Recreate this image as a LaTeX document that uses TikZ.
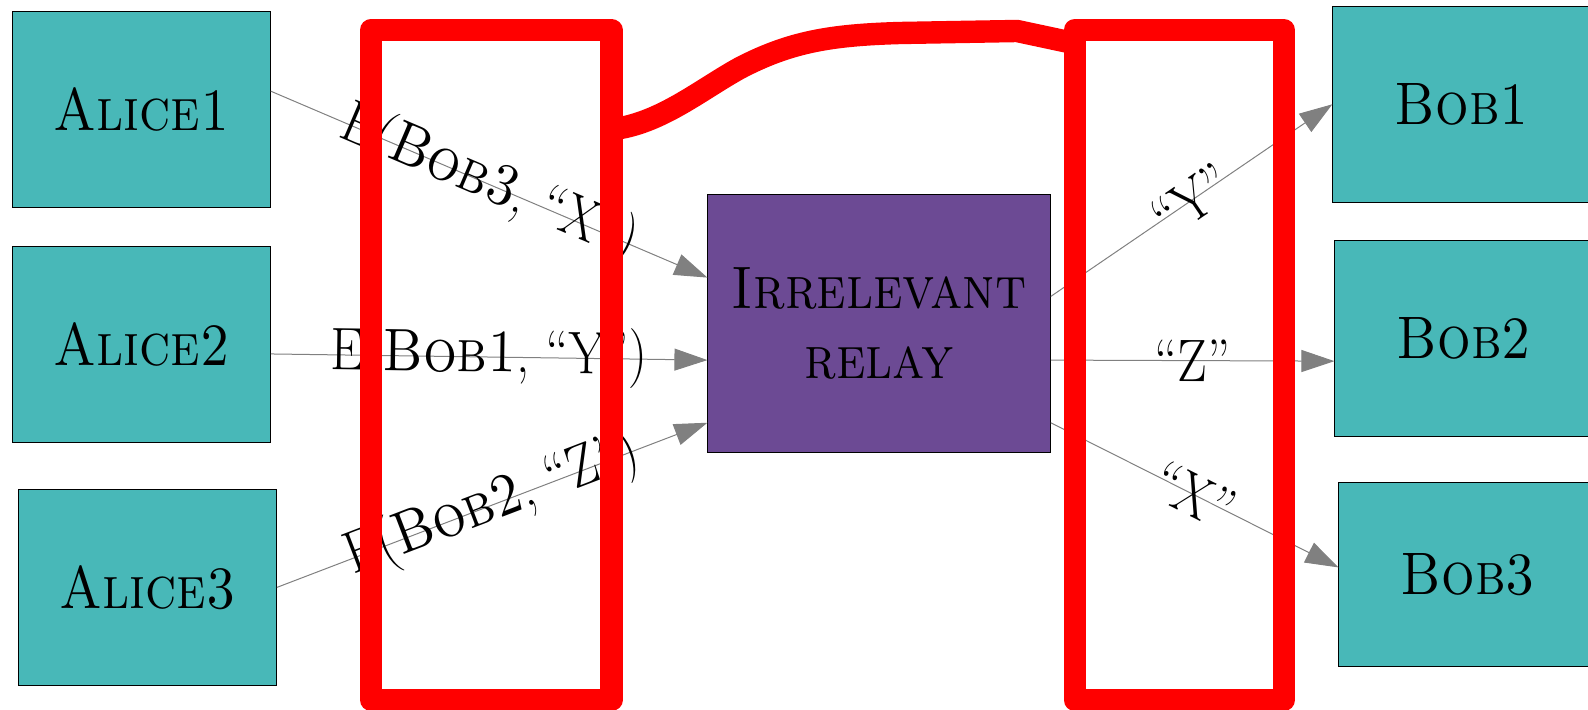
\documentclass[tikz,border=0pt]{standalone}
\usepackage{tikz}
\usetikzlibrary{arrows.meta}
\definecolor{party}{RGB}{72, 184, 184}
\definecolor{hubfill}{RGB}{108, 74, 148}
\definecolor{wire}{RGB}{128, 128, 128}
\definecolor{redmark}{RGB}{255, 0, 0}
\newcommand{\nar}[1]{\scalebox{0.88}[1]{#1}}
\tikzset{
    person/.style={rectangle, draw=black, line width=0.5pt, fill=party, minimum width=129pt, minimum height=98pt, inner sep=0pt, font=\fontsize{30}{35}\selectfont},
    hub/.style={person, fill=hubfill, minimum width=171.2pt, minimum height=129pt, align=center},
    msg/.style={draw=wire, line width=0.5pt, -{Triangle[length=16.5pt, width=11pt]}},
    msglabel/.style={midway, sloped, inner sep=0pt, font=\fontsize{30}{35}\selectfont},
    zone/.style={rectangle, draw=redmark, line width=11.2pt, line join=round, inner sep=0pt, outer sep=0pt, minimum height=335pt},
    link/.style={draw=redmark, line width=11.2pt, line join=round}
}

\begin{document}
\begin{tikzpicture}[x=0.5pt, y=-0.5pt]
    \useasboundingbox (0,0) rectangle (1588,710);

    % Senders
    \node[person] (alice1) at (141.3, 109.4) {\nar{\textsc{Alice1}}};
    \node[person] (alice2) at (141.3, 344.9) {\nar{\textsc{Alice2}}};
    \node[person] (alice3) at (147.4, 587.4) {\nar{\textsc{Alice3}}};

    % Relay
    \node[hub] (relay) at (879.1, 323.6) {\nar{\textsc{Irrelevant}}\\\nar{\textsc{relay}}};

    % Receivers
    \node[person] (bob1) at (1461.8, 104.3) {\nar{\textsc{Bob1}}};
    \node[person] (bob2) at (1463.9, 338.3) {\nar{\textsc{Bob2}}};
    \node[person, minimum height=92pt] (bob3) at (1467.9, 574.2) {\nar{\textsc{Bob3}}};

    % Messages in
    \draw[msg] (alice1.8) -- node[msglabel] {\nar{E(\textsc{Bob3}, “X”)}} (relay.165.3);
    \draw[msg] (alice2.-4.3) -- node[msglabel] {\nar{E(\textsc{Bob1}, “Y”)}} (relay.192.8);
    \draw[msg] (alice3.east) -- node[msglabel] {\nar{E(\textsc{Bob2}, “Z”)}} (relay.210.7);

    % Messages out
    \draw[msg] (relay.9.9) -- node[msglabel] {\nar{“Y”}} (bob1.west);
    \draw[msg] (relay.-12.8) -- node[msglabel] {\nar{“Z”}} (bob2.190.7);
    \draw[msg] (relay.-30.7) -- node[msglabel] {\nar{“X”}} (bob3.177);

    % Observed links
    \node[zone, minimum width=120.05pt] (leftzone) at (491.25, 365) {};
    \node[zone, minimum width=104.5pt] (rightzone) at (1179.2, 365) {};
    \draw[link] (leftzone.63.5) .. controls (660,124) and (700,90) .. (740,68)
        .. controls (790,42) and (830,35) .. (900,33) -- (1017,31) -- (rightzone.108.3);
\end{tikzpicture}
\end{document}
